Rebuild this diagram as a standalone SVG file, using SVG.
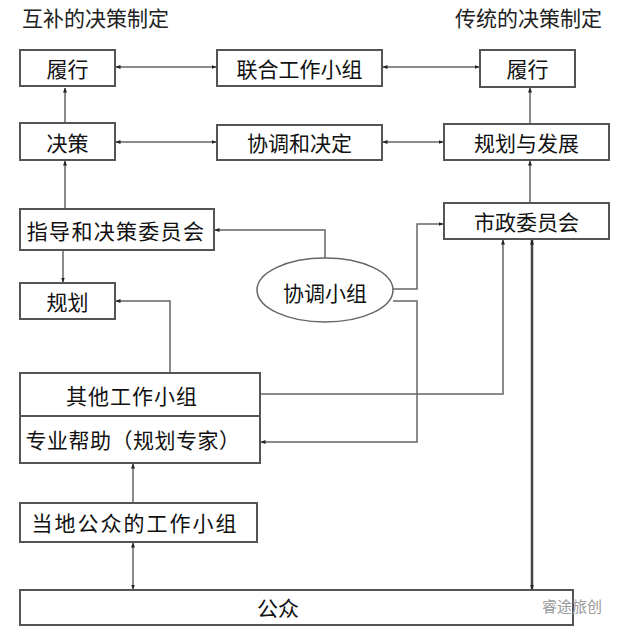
<svg xmlns="http://www.w3.org/2000/svg" width="620" height="633" viewBox="0 0 620 633">
<defs>
<marker id="ah" viewBox="0 0 10 10" refX="9" refY="5" markerWidth="5" markerHeight="5" orient="auto-start-reverse" markerUnits="userSpaceOnUse">
<path d="M0,1 L10,5 L0,9 z" fill="#222"/>
</marker>
<style>
.box{fill:#fff;stroke:#555;stroke-width:2}
.t{font-family:"Noto Sans CJK SC","Noto Sans",sans-serif;font-size:21px;fill:#111;text-anchor:middle;dominant-baseline:central}
.title{font-family:"Noto Sans CJK SC","Noto Sans",sans-serif;font-size:21px;fill:#222}
.c{fill:none;stroke:#666;stroke-width:1.5}
.ca{fill:none;stroke:#666;stroke-width:1.5;marker-end:url(#ah)}
.cb{fill:none;stroke:#666;stroke-width:1.5;marker-end:url(#ah);marker-start:url(#ah)}
</style>
</defs>
<rect width="620" height="633" fill="#fff"/>
<text class="title" x="22" y="26">互补的决策制定</text>
<text class="title" x="455" y="26">传统的决策制定</text>

<g id="connectors">
<path class="cb" d="M116,67 H216"/>
<path class="cb" d="M383,67 H479"/>
<path class="cb" d="M116,142 H216"/>
<path class="cb" d="M383,142 H443"/>
<path class="ca" d="M65,123 V88"/>
<path class="ca" d="M65,209 V161"/>
<path class="ca" d="M63,250 V282"/>
<path class="ca" d="M530,124 V88"/>
<path class="ca" d="M530,203 V161"/>
<path class="ca" d="M325,259 V230 H215"/>
<path class="ca" d="M393,289 H417 V224 H443"/>
<path class="ca" d="M393,301 H417 V442 H261"/>
<path class="ca" d="M170,373 V301 H116"/>
<path class="ca" d="M260,394 H503 V240"/>
<path class="cb" d="M532,240 V589" style="stroke:#444;stroke-width:2.5"/>
<path class="cb" d="M133,543 V589"/>
<path class="ca" d="M133,503 V464"/>
</g>

<g id="n-lvxing-l"><rect class="box" x="20" y="50" width="95" height="36"/><text class="t" x="67.5" y="68">履行</text></g>
<g id="n-lianhe"><rect class="box" x="217" y="50" width="165" height="36"/><text class="t" x="299.5" y="68">联合工作小组</text></g>
<g id="n-lvxing-r"><rect class="box" x="480" y="50" width="95" height="37"/><text class="t" x="527.5" y="68">履行</text></g>
<g id="n-juece"><rect class="box" x="20" y="123" width="95" height="37"/><text class="t" x="67.5" y="142">决策</text></g>
<g id="n-xietiao"><rect class="box" x="217" y="125" width="165" height="35"/><text class="t" x="299.5" y="142">协调和决定</text></g>
<g id="n-guihua-fz"><rect class="box" x="444" y="124" width="165" height="36"/><text class="t" x="526.5" y="142">规划与发展</text></g>
<g id="n-zhidao"><rect class="box" x="20" y="209" width="194" height="41"/><text class="t" x="116" y="230" style="letter-spacing:1.3px">指导和决策委员会</text></g>
<g id="n-shizheng"><rect class="box" x="444" y="203" width="165" height="36"/><text class="t" x="526.5" y="221">市政委员会</text></g>
<g id="n-guihua"><rect class="box" x="20" y="283" width="95" height="36"/><text class="t" x="67.5" y="301">规划</text></g>
<g id="n-xtxz"><ellipse cx="325" cy="290" rx="68" ry="32" fill="#fff" stroke="#666" stroke-width="1.5"/><text class="t" x="325" y="292">协调小组</text></g>
<g id="n-qita"><rect class="box" x="20" y="373" width="240" height="90"/><line x1="20" y1="416" x2="260" y2="416" stroke="#555" stroke-width="2"/><text class="t" x="132" y="395" style="letter-spacing:1px">其他工作小组</text><text class="t" x="133" y="439" style="letter-spacing:0.5px">专业帮助（规划专家）</text></g>
<g id="n-dangdi"><rect class="box" x="20" y="503" width="237" height="39"/><text class="t" x="135" y="522" style="letter-spacing:2px">当地公众的工作小组</text></g>
<g id="n-gongzhong"><rect class="box" x="20" y="590" width="553" height="35"/><text class="t" x="278" y="607">公众</text></g>
<text x="542" y="612" font-family="Noto Sans CJK SC,sans-serif" font-size="15" fill="#999">睿途旅创</text>
</svg>
